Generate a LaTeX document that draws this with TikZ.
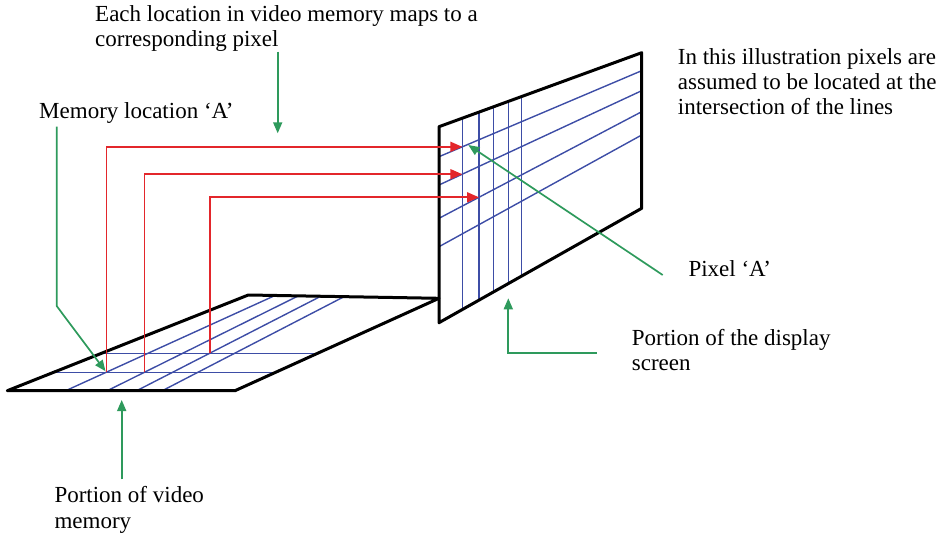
\documentclass[tikz,border=0pt]{standalone}
\usepackage{fontspec}
\setmainfont{Liberation Serif}
\usetikzlibrary{arrows.meta}
\definecolor{gridblue}{HTML}{3D4DA6}
\definecolor{mapred}{HTML}{E3262B}
\definecolor{callgreen}{HTML}{2E9A5C}

\begin{document}
\begin{tikzpicture}[x=1pt,y=-1pt,
  frame/.style={line width=3pt, line join=round},
  gridline/.style={gridblue, line width=1.4pt},
  maparrow/.style={mapred, line width=1.8pt, -{Triangle[length=12pt,width=10pt]}},
  callout/.style={callgreen, line width=1.7pt, -{Triangle[length=11pt,width=9pt]}},
  caption/.style={inner sep=0pt, anchor=base west, align=left,
    font=\fontsize{23}{25.5}\selectfont}]
\useasboundingbox (0,0) rectangle (946,533);

% ---- video memory plane (seen in perspective) ----
\coordinate (mBL) at (7.3,390.7);
\coordinate (mBR) at (235,390.7);
\coordinate (mTR) at (439,298.3);
\coordinate (mTL) at (248.3,295);
% rows
\draw[gridline] (101.5,353.3) -- (317.3,353.3);
\draw[gridline] (53.6,372.3) -- (275.5,372.3);
% columns
\foreach \xb/\xt/\yt in {65.7/275/295.5, 107.3/298.3/295.9, 136.7/320.7/296.3, 162.3/344/296.7}
  \draw[gridline] (\xb,390.7) -- (\xt,\yt);
\draw[frame] (mBL) -- (mBR) -- (mTR) -- (mTL) -- cycle;

% ---- display screen ----
\coordinate (sTL) at (439,126.7);
\coordinate (sTR) at (641.7,52.7);
\coordinate (sBR) at (641.7,208.3);
\coordinate (sBL) at (439,322.7);
\foreach \x/\yt/\yb in {462.3/118.2/309.5, 479/112.1/300.1, 493.3/106.9/292.0, 508.3/101.4/283.6, 521.7/96.5/276.0}
  \draw[gridline] (\x,\yt) -- (\x,\yb);
\foreach \yl/\yr in {156.7/70.7, 185/90.7, 218.3/111.7, 246.7/135}
  \draw[gridline] (439,\yl) -- (641.7,\yr);
\draw[frame] (sTL) -- (sTR) -- (sBR) -- (sBL) -- cycle;

% ---- memory locations and their pixels ----
\coordinate (memA) at (106.5,372.3);
\coordinate (memB) at (144.5,372.3);
\coordinate (memC) at (210,353.3);
\coordinate (pixA) at (462.3,146.8);
\coordinate (pixB) at (462.3,174.2);
\coordinate (pixC) at (479,197.3);
\draw[maparrow] (memA) |- (pixA);
\draw[maparrow] (memB) |- (pixB);
\draw[maparrow] (memC) |- (pixC);

% ---- captions (anchored at the baseline of their last line) ----
\node[caption] (each) at (95,46.7) {Each location in video memory maps to a\\corresponding pixel};
\node[caption] (memloc) at (39,118.3) {Memory location ‘A’};
\node[caption, font=\fontsize{23}{25}\selectfont] (illus) at (677.7,114)
  {In this illustration pixels are\\assumed to be located at the\\intersection of the lines};
\node[caption] (pixlab) at (688.3,276.7) {Pixel ‘A’};
\node[caption] (disp) at (631.7,370.5) {Portion of the display\\screen};
\node[caption] (vmem) at (54.3,528.3) {Portion of video\\memory};

% ---- callout arrows ----
\coordinate (eachS) at (277.7,51.7);
\coordinate (eachT) at (277.7,133.3);
\draw[callout] (eachS) -- (eachT);

\coordinate (memS) at (56.7,126.7);
\coordinate (memK) at (56.7,306);
\coordinate (memT) at (105.5,371.2);
\draw[callout] (memS) -- (memK) -- (memT);

\coordinate (pixS) at (662.7,275);
\coordinate (pixT) at (468.3,145);
\draw[callout] (pixS) -- (pixT);

\coordinate (dispS) at (596.7,353.3);
\coordinate (dispT) at (508.3,298.3);
\draw[callout] (dispS) -| (dispT);

\coordinate (vmemS) at (121.7,479.3);
\coordinate (vmemT) at (121.7,400);
\draw[callout] (vmemS) -- (vmemT);
\end{tikzpicture}
\end{document}
